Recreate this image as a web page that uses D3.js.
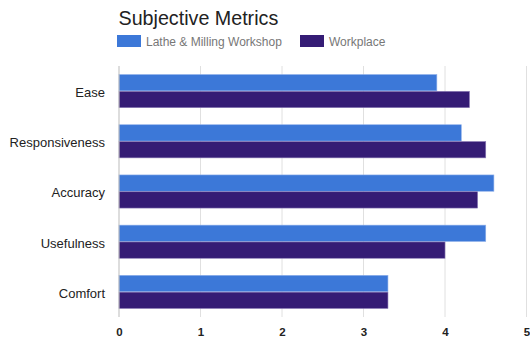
<!DOCTYPE html>
<html><head><meta charset="utf-8">
<script src="https://cdn.jsdelivr.net/npm/d3@7"></script>
<style>body{margin:0;background:#fff;}svg{display:block;font-family:Arial, "Liberation Sans", sans-serif;}</style>
</head><body><svg id="c" width="530" height="339"></svg>
<script>
const categories = ["Ease","Responsiveness","Accuracy","Usefulness","Comfort"];
const seriesNames = ["Lathe & Milling Workshop","Workplace"];
const lathe = [3.9,4.2,4.6,4.5,3.3];
const workplace = [4.3,4.5,4.4,4.0,3.3];
const xTicks = [0,1,2,3,4,5];
const colors = ["#3c78d8","#351c75"];

(function(){
const FF = "Arial, 'Liberation Sans', sans-serif";
const svg = d3.select("#c");
const mL = 119, mR = 526.5, mT = 66, mB = 317;
const x = d3.scaleLinear().domain([0,5]).range([mL,mR]);
const y = d3.scaleBand().domain(categories).range([mT,mB]).paddingInner(0.34).paddingOuter(0.17);
const ySub = d3.scaleBand().domain(seriesNames).range([0,y.bandwidth()]).paddingInner(0.03);

svg.append("text").attr("x",118.5).attr("y",25).attr("font-size",19.7).attr("fill","#222").attr("font-family",FF).text("Subjective Metrics");

const legX = [117,300];
seriesNames.forEach((s,i)=>{
  svg.append("rect").attr("x",legX[i]).attr("y",35).attr("width",24).attr("height",12).attr("fill",colors[i]);
  svg.append("text").attr("x",legX[i]+29).attr("y",45.5).attr("font-size",12).attr("fill","#777").attr("font-family",FF).text(s);
});

svg.append("g").selectAll("line").data(xTicks.slice(1)).join("line")
  .attr("x1",d=>x(d)).attr("x2",d=>x(d)).attr("y1",mT).attr("y2",mB)
  .attr("stroke","#e0e0e0").attr("stroke-width",1);

const data = categories.map((c,i)=>({c, vals:[lathe[i],workplace[i]]}));
const g = svg.append("g").selectAll("g").data(data).join("g").attr("transform",d=>`translate(0,${y(d.c)})`);
g.selectAll("rect").data(d=>d.vals.map((v,i)=>({v,s:seriesNames[i],i}))).join("rect")
  .attr("x",x(0)).attr("y",d=>ySub(d.s)).attr("width",d=>x(d.v)-x(0)).attr("height",ySub.bandwidth())
  .attr("fill",d=>colors[d.i]).attr("stroke",d=>d.i===0?"#8fb0ea":"#8a7ab5").attr("stroke-width",0.6);

svg.append("line").attr("x1",x(0)).attr("x2",x(0)).attr("y1",mT).attr("y2",mB).attr("stroke","#bbb");

const xa = svg.append("g").attr("transform",`translate(0,${mB})`)
  .call(d3.axisBottom(x).tickValues(xTicks).tickFormat(d3.format("d")).tickSize(0).tickPadding(11));
xa.select(".domain").remove();
xa.selectAll("text").attr("font-size",11.5).attr("font-weight","bold").attr("fill","#222").attr("font-family",FF);

const ya = svg.append("g").attr("transform",`translate(${mL},0)`)
  .call(d3.axisLeft(y).tickSize(0).tickPadding(14));
ya.select(".domain").remove();
ya.selectAll("text").attr("font-size",13).attr("fill","#222").attr("font-family",FF).attr("dy","0.45em");
})();
</script></body></html>
